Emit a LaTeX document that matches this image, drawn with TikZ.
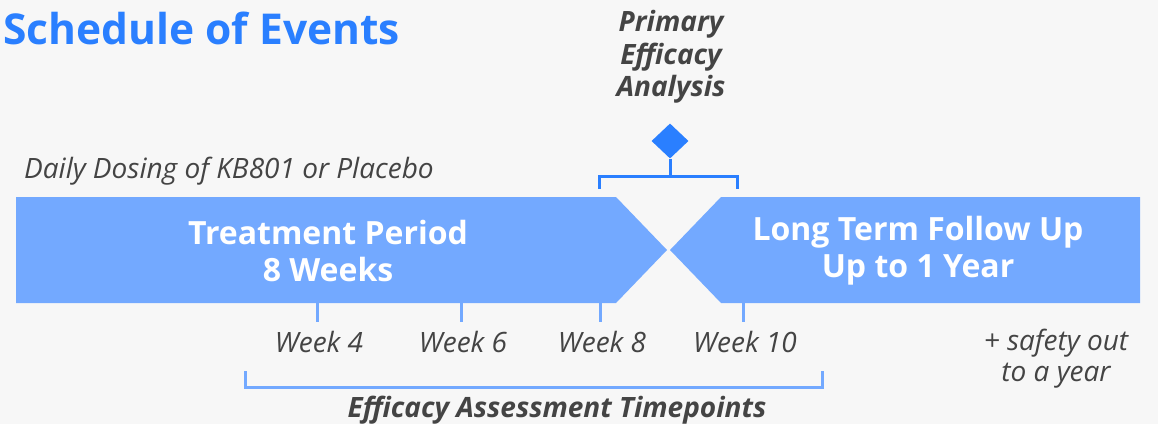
\documentclass[tikz,border=0pt]{standalone}
\usepackage{fontspec}
\setmainfont{Open Sans}
\usetikzlibrary{positioning,shapes.geometric}
\definecolor{bgcol}{HTML}{F7F7F7}
\definecolor{barblue}{HTML}{73A9FF}
\definecolor{deepblue}{HTML}{2A7FFF}
\definecolor{txtgray}{HTML}{444444}
\begin{document}
\begin{tikzpicture}[x=1pt,y=-1pt,
  bar/.style={fill=barblue},
  bartxt/.style={text=white,font=\fontsize{32}{37}\selectfont\bfseries,align=center},
  note/.style={text=txtgray,font=\fontsize{28}{31}\selectfont\itshape,align=center},
  bnote/.style={text=txtgray,font=\fontsize{28}{32.5}\selectfont\bfseries\itshape,align=center},
  tick/.style={draw=barblue,line width=3pt},
  brk/.style={draw=barblue,line width=3pt},
  topbrk/.style={draw=deepblue,line width=3pt}]
\fill[bgcol] (0,0) rectangle (1158,424);
\useasboundingbox (0,0) rectangle (1158,424);
% title
\node[anchor=base west,inner sep=0pt,text=deepblue,font=\fontsize{42.5}{48}\selectfont\bfseries] (title) at (3,44) {Schedule of Events};
% the two periods
\fill[bar] (16,197) -- (616,197) -- (667,250) -- (616,303) -- (16,303) -- cycle;
\fill[bar] (1140,197) -- (721,197) -- (670,250) -- (721,303) -- (1140,303) -- cycle;
\node[bartxt] (treat) at (328,250.5) {Treatment Period\\8 Weeks};
\node[bartxt] (ltfu) at (918,250.5) {Long Term Follow Up\\Up to 1 Year};
\node[note,anchor=base west,inner sep=0pt] (dosing) at (24,178) {Daily Dosing of KB801 or Placebo};
% primary analysis marker
\node[bnote] (primary) at (671,57) {Primary\\Efficacy\\Analysis};
\node[diamond,fill=deepblue,inner sep=0pt,minimum width=37pt,minimum height=35pt] (dia) at (670,141) {};
\coordinate (bl) at (599,189); \coordinate (br) at (737,189);
\coordinate (bmid) at (670,176);
\draw[topbrk] (dia.south) -- (bmid);
\draw[topbrk] (bl) |- (bmid) -| (br);
% weeks
\foreach \x/\w [count=\i] in {317/4,461/6,600/8,743/10}{
  \coordinate (t\i) at (\x,302);
  \draw[tick] (t\i) -- ++(0,20);
  \node[note,anchor=base] (wk\i) at (\x+2,352) {Week \w};
}
\node[note] (safety) at (1056,359) {+ safety out\\to a year};
% efficacy bracket
\coordinate (el) at (245,371); \coordinate (er) at (822,371);
\draw[brk] (el) |- (533,387) -| (er);
\node[bnote,anchor=base] (effic) at (557,417) {Efficacy Assessment Timepoints};
\end{tikzpicture}
\end{document}
